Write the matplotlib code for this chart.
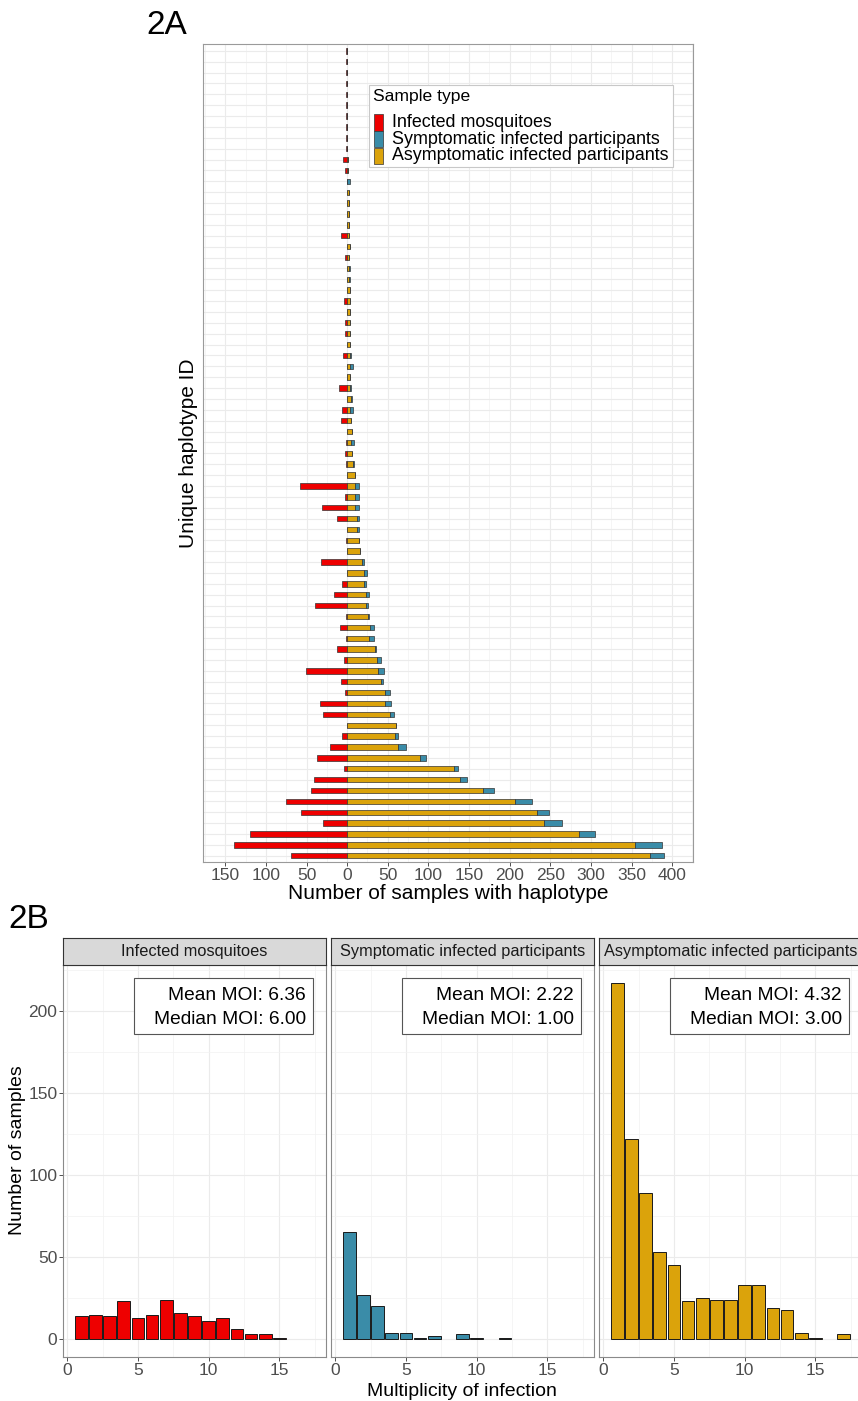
import matplotlib
matplotlib.use("Agg")
import matplotlib.pyplot as plt
from matplotlib.patches import Rectangle
from matplotlib.ticker import FixedLocator, FuncFormatter
import numpy as np

plt.rcParams['font.family'] = ['Liberation Sans', 'DejaVu Sans']

# ---------------- data: haplotype counts (bottom row first) ----------------
mosquito_counts = [69, 139, 120, 30, 57, 75, 45, 41, 4, 37,
                   21, 6, 0, 30, 34, 3, 7, 51, 4, 12,
                   1, 9, 2, 40, 16, 6, 0, 32, 0, 2,
                   0, 12, 31, 3, 58, 0, 1, 3, 2, 0,
                   7, 6, 0, 10, 0, 0, 5, 0, 3, 3,
                   0, 4, 0, 0, 0, 3, 0, 7, 0, 0,
                   0, 0, 0, 3, 5, 1, 1, 1, 1, 1,
                   1, 1, 1, 1, 1]
symptomatic_counts = [17, 33, 20, 22, 15, 21, 14, 8, 5, 7,
                      11, 4, 0, 5, 7, 7, 2, 7, 5, 1,
                      6, 5, 1, 3, 4, 2, 3, 3, 0, 1,
                      3, 2, 4, 4, 5, 0, 2, 0, 4, 0,
                      0, 3, 1, 1, 0, 3, 1, 0, 0, 0,
                      0, 0, 0, 1, 1, 0, 1, 0, 0, 0,
                      0, 0, 3, 0, 0, 0, 0, 0, 0, 0,
                      0, 0, 0, 0, 0]
asymptomatic_counts = [373, 354, 285, 242, 234, 207, 167, 139, 131, 90,
                       62, 59, 60, 53, 47, 46, 42, 38, 37, 34,
                       27, 28, 26, 23, 23, 21, 21, 18, 16, 14,
                       12, 12, 10, 10, 10, 10, 7, 6, 5, 6,
                       5, 4, 5, 4, 4, 4, 4, 4, 3, 3,
                       3, 3, 3, 2, 2, 2, 3, 2, 2, 2,
                       2, 2, 0, 1, 1, 0, 0, 0, 0, 0,
                       0, 0, 0, 0, 0]

sample_types = ["Infected mosquitoes", "Symptomatic infected participants",
                "Asymptomatic infected participants"]
type_colors = ["#EE0000", "#3A8CA8", "#DBA30B"]

# ---------------- data: multiplicity of infection ----------------
moi_mosquito = list(range(1, 16))
n_mosquito = [14, 15, 14, 23, 13, 15, 24, 16, 14, 11, 13, 6, 3, 3, 1]
moi_symptomatic = [1, 2, 3, 4, 5, 6, 7, 9, 10, 12]
n_symptomatic = [65, 27, 20, 4, 4, 1, 2, 3, 1, 1]
moi_asymptomatic = [1, 2, 3, 4, 5, 6, 7, 8, 9, 10, 11, 12, 13, 14, 15, 17]
n_asymptomatic = [217, 122, 89, 53, 45, 23, 25, 24, 24, 33, 33, 19, 18, 4, 1, 3]
moi_labels = [("Mean MOI: 6.36", "Median MOI: 6.00"),
              ("Mean MOI: 2.22", "Median MOI: 1.00"),
              ("Mean MOI: 4.32", "Median MOI: 3.00")]

W, H = 858, 1401
fig = plt.figure(figsize=(W / 100, H / 100), dpi=100)
fig.patch.set_facecolor("white")


def box(x0, y0, x1, y1):
    """Figure-fraction rectangle from pixel edges (y measured from top)."""
    return [x0 / W, 1 - y1 / H, (x1 - x0) / W, (y1 - y0) / H]


def fx(x):
    return x / W


def fy(y):
    return 1 - y / H


GRID = "#EBEBEB"
TICKC = "#4D4D4D"
EDGE = "#333333"
TICK_FS = 12.5

# ====================== 2A ======================
ax = fig.add_axes(box(203.3, 44.3, 693.3, 862.3))
n_rows = len(mosquito_counts)
rows = np.arange(n_rows)
m = np.array(mosquito_counts)
s = np.array(symptomatic_counts)
a = np.array(asymptomatic_counts)
bh = 0.5
lw = 0.5
ax.barh(rows, m, left=-m, height=bh, color=type_colors[0], edgecolor=EDGE, linewidth=lw, zorder=3)
ax.barh(rows, a, left=0, height=bh, color=type_colors[2], edgecolor=EDGE, linewidth=lw, zorder=3)
ax.barh(rows, s, left=a, height=bh, color=type_colors[1], edgecolor=EDGE, linewidth=lw, zorder=3)

ax.set_xlim(-177, 426)
ax.set_ylim(-0.6, n_rows - 1 + 0.6)
xt = np.arange(-150, 401, 50)
ax.xaxis.set_major_locator(FixedLocator(xt))
ax.xaxis.set_minor_locator(FixedLocator(np.arange(-175, 426, 25)))
ax.xaxis.set_major_formatter(FuncFormatter(lambda v, p: f"{abs(int(round(v)))}"))
ax.set_yticks(rows)
ax.set_yticklabels([])
ax.tick_params(axis="y", length=0)
ax.tick_params(axis="x", which="major", length=3, width=0.6, color=EDGE,
               labelsize=TICK_FS, labelcolor=TICKC, pad=1)
ax.tick_params(axis="x", which="minor", length=0)
ax.grid(True, which="major", color=GRID, linewidth=0.8, zorder=0)
ax.grid(True, which="minor", axis="x", color="#F2F2F2", linewidth=0.5, zorder=0)
ax.set_axisbelow(True)
for sp in ax.spines.values():
    sp.set_color("#9A9A9A")
    sp.set_linewidth(0.8)
ax.set_xlabel("Number of samples with haplotype", fontsize=15, color="black", labelpad=1)
ax.set_ylabel("Unique haplotype ID", fontsize=15, color="black", labelpad=0)

# legend drawn inside the panel
leg_x0, leg_y0, leg_x1, leg_y1 = 369, 85, 673, 167
fig.patches.append(Rectangle((fx(leg_x0), fy(leg_y1)), (leg_x1 - leg_x0) / W, (leg_y1 - leg_y0) / H,
                             transform=fig.transFigure, facecolor="white", edgecolor="#C8C8C8",
                             linewidth=0.8, zorder=5))
fig.text(fx(373), fy(97), "Sample type", fontsize=12.6, va="center", ha="left", zorder=6)
for i, (lab, col) in enumerate(zip(sample_types, type_colors)):
    yc = 122.5 + i * 16.7
    fig.patches.append(Rectangle((fx(373.5), fy(yc + 8)), 9 / W, 16 / H, transform=fig.transFigure,
                                 facecolor=col, edgecolor=EDGE, linewidth=0.5, zorder=6))
    fig.text(fx(392), fy(yc), lab, fontsize=12.9, va="center", ha="left", zorder=6)

fig.text(fx(146), fy(26), "2A", fontsize=24, va="center", ha="left")

# ====================== 2B ======================
facet_x = [(63, 326), (331, 594), (599, 862)]
strip_top, panel_top, panel_bot = 938, 965, 1357
moi_x = [moi_mosquito, moi_symptomatic, moi_asymptomatic]
moi_n = [n_mosquito, n_symptomatic, n_asymptomatic]
ymax = max(max(v) for v in moi_n)
ylo, yhi = -0.05 * ymax, 1.05 * ymax

for k, (x0, x1) in enumerate(facet_x):
    axf = fig.add_axes(box(x0, panel_top, x1, panel_bot))
    axf.bar(moi_x[k], moi_n[k], width=0.9, color=type_colors[k], edgecolor="#1A1A1A",
            linewidth=0.7, zorder=3)
    axf.set_xlim(-0.295, 18.295)
    axf.set_ylim(ylo, yhi)
    axf.xaxis.set_major_locator(FixedLocator([0, 5, 10, 15]))
    axf.xaxis.set_minor_locator(FixedLocator([2.5, 7.5, 12.5, 17.5]))
    axf.yaxis.set_major_locator(FixedLocator([0, 50, 100, 150, 200]))
    axf.yaxis.set_minor_locator(FixedLocator([25, 75, 125, 175, 225]))
    axf.grid(True, which="major", color=GRID, linewidth=0.8, zorder=0)
    axf.grid(True, which="minor", color="#F2F2F2", linewidth=0.5, zorder=0)
    axf.set_axisbelow(True)
    axf.tick_params(which="major", length=3, width=0.6, color=EDGE, labelsize=TICK_FS,
                    labelcolor=TICKC, pad=1)
    axf.tick_params(which="minor", length=0)
    if k > 0:
        axf.tick_params(axis="y", labelleft=False, length=0)
    for sp in axf.spines.values():
        sp.set_color("#8A8A8A")
        sp.set_linewidth(0.8)
    # facet strip
    sax = fig.add_axes(box(x0, strip_top, x1, panel_top))
    sax.set_xticks([])
    sax.set_yticks([])
    sax.set_facecolor("#D9D9D9")
    for sp in sax.spines.values():
        sp.set_color(EDGE)
        sp.set_linewidth(0.8)
    sax.text(0.5, 0.5, sample_types[k], transform=sax.transAxes, ha="center", va="center",
             fontsize=11.8, color="#1A1A1A")
    # summary box
    bx0, bx1 = x0 + 71, x0 + 250
    by0, by1 = 978, 1034
    fig.patches.append(Rectangle((fx(bx0), fy(by1)), (bx1 - bx0) / W, (by1 - by0) / H,
                                 transform=fig.transFigure, facecolor="white",
                                 edgecolor="#555555", linewidth=0.8, zorder=5))
    fig.text(fx(bx1 - 7), fy(996), moi_labels[k][0], fontsize=13.8, ha="right", va="center", zorder=6)
    fig.text(fx(bx1 - 7), fy(1019), moi_labels[k][1], fontsize=13.8, ha="right", va="center", zorder=6)

fig.text(fx(18), fy(1150), "Number of samples", rotation=90, fontsize=14, ha="center", va="center")
fig.text(fx(462), fy(1391), "Multiplicity of infection", fontsize=14, ha="center", va="center")
fig.text(fx(8), fy(920), "2B", fontsize=24, va="center", ha="left")

fig.savefig("out.png", dpi=100)
